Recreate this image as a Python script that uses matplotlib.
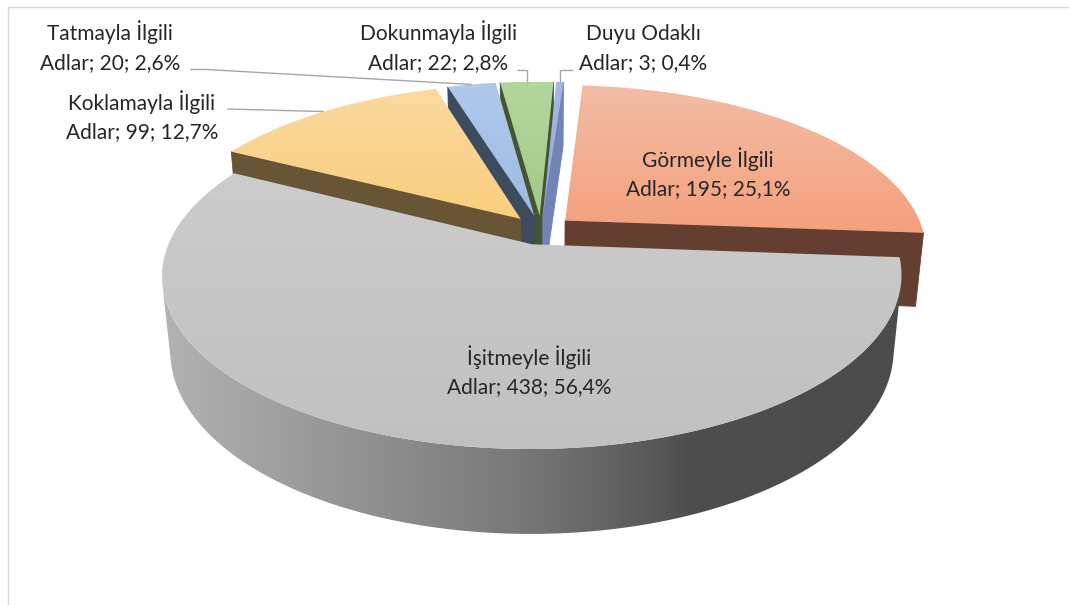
import numpy as np
import matplotlib
matplotlib.use('Agg')
import matplotlib.pyplot as plt
from matplotlib.patches import Polygon
from matplotlib.colors import LinearSegmentedColormap

# data (Excel order, clockwise from the top)
names = ['Görmeyle İlgili', 'İşitmeyle İlgili', 'Koklamayla İlgili',
         'Tatmayla İlgili', 'Dokunmayla İlgili', 'Duyu Odaklı']
series_name = 'Adlar'
values = [195, 438, 99, 20, 22, 3]

top_colors = [('#F2BDA5', '#F4A07D'), ('#CCCCCC', '#C0C0C0'), ('#FBDA9F', '#F9CE7D'),
              ('#B0C9E9', '#9CBAE2'), ('#B3D69D', '#A2CA87'), ('#A7B7E3', '#95A7DB')]
side_colors = ['#643F31', None, '#675535', '#3D4B5E', '#435532', '#7483B5']
gray_side_stops = [0.0, 0.5, 0.72, 1.0]
gray_side_cols = ['#B2B2B2', '#767676', '#4E4E4E', '#4C4C4C']

# label anchors (px, baseline of first line) and leader start points
label_xy = [(708, 167), (529, 365), (142, 110), (110, 40.5), (438, 40.5), (643, 40.5)]
leader_from = [None, None, (227, 109), (190, 69.5), (517, 70), (573, 70)]
leader_kind = [None, None, 'straight', 'stub', 'elbow', 'elbow']

# 3d view settings
ALPHA = np.radians(27)
DIST = 5.0
SCALE = 358
CX, CY = 541, 230
HEIGHT = 0.235
EXPLODE = 0.09
START = 4.0


def proj(X, Y, Z):
    w = 1 + Z * np.cos(ALPHA) / DIST - Y * np.sin(ALPHA) / DIST
    return CX + SCALE * X / w, CY - SCALE * (Y * np.cos(ALPHA) + Z * np.sin(ALPHA)) / w


cam = np.array([0.0, -DIST * np.cos(ALPHA)])


def grad_fill(ax, pts, stops, cols, horizontal, z):
    poly = Polygon(pts, closed=True, facecolor='none', edgecolor='none')
    ax.add_patch(poly)
    x0, y0 = pts.min(0)
    x1, y1 = pts.max(0)
    cmap = LinearSegmentedColormap.from_list('g', list(zip(stops, cols)))
    g = np.linspace(0, 1, 256)
    arr = g[None, :] if horizontal else g[:, None]
    im = ax.imshow(arr, cmap=cmap, vmin=0, vmax=1, extent=(x0, x1, y1, y0),
                   aspect='auto', interpolation='bilinear', zorder=z)
    im.set_clip_path(poly)


def flat(ax, pts, col, z):
    ax.add_patch(Polygon(pts, closed=True, facecolor=col, edgecolor=col, lw=0.6, zorder=z))


total = sum(values)
fr = np.array(values) / total
c_end = START + np.cumsum(fr) * 360
c_start = c_end - fr * 360

fig = plt.figure(figsize=(10.69, 6.05), dpi=100)
ax = fig.add_axes([0, 0, 1, 1])

slices = []
for i in range(len(values)):
    a_hi = 90 - c_start[i]
    a_lo = 90 - c_end[i]
    am = np.radians((a_lo + a_hi) / 2)
    off = EXPLODE * np.array([np.cos(am), np.sin(am)])
    slices.append((i, np.radians(a_lo), np.radians(a_hi), am, off))

# far slices first
order = sorted(slices, key=lambda s: -(s[4][1] + np.sin(s[3])))

z = 2
for i, a_lo, a_hi, am, off in order:
    n = max(8, int(abs(a_hi - a_lo) * 120))
    arc = np.linspace(a_lo, a_hi, n)
    ox, oz = off
    tip_t = proj(ox, 0, oz)
    tip_b = proj(ox, -HEIGHT, oz)

    # radial faces
    for a, sgn in ((a_lo, 1), (a_hi, -1)):
        nrm = sgn * np.array([np.sin(a), -np.cos(a)])
        if np.dot(cam - off, nrm) > 0 and side_colors[i] is not None:
            ex, ez = ox + np.cos(a), oz + np.sin(a)
            pts = np.array([tip_t, proj(ex, 0, ez), proj(ex, -HEIGHT, ez), tip_b])
            flat(ax, pts, side_colors[i], z)
            z += 1

    # curved outer face
    u = np.stack([np.cos(arc), np.sin(arc)], 1)
    vis = np.einsum('ij,ij->i', cam - (off + u), u) > 0
    if vis.any():
        va = arc[vis]
        tx, ty = proj(ox + np.cos(va), 0, oz + np.sin(va))
        bx, by = proj(ox + np.cos(va), -HEIGHT, oz + np.sin(va))
        pts = np.concatenate([np.stack([tx, ty], 1), np.stack([bx, by], 1)[::-1]])
        if side_colors[i] is None:
            grad_fill(ax, pts, gray_side_stops, gray_side_cols, True, z)
        else:
            flat(ax, pts, side_colors[i], z)
        z += 1

    # top face
    ax_, ay_ = proj(ox + np.cos(arc), 0, oz + np.sin(arc))
    pts = np.concatenate([[tip_t], np.stack([ax_, ay_], 1)])
    grad_fill(ax, pts, [0, 1], top_colors[i], False, z)
    z += 1

# labels and leader lines
for i, a_lo, a_hi, am, off in slices:
    pct = f'{values[i] / total * 100:.1f}'.replace('.', ',')
    x, y = label_xy[i]
    for k, s in enumerate([names[i], f'{series_name}; {values[i]}; {pct}%']):
        ax.text(x, y + k * 28.5, s, ha='center', va='baseline', fontsize=15,
                color='#262626', family=['Lato', 'DejaVu Sans'], zorder=60)
    if leader_from[i] is not None:
        ex, ey = proj(off[0] + np.cos(am), 0, off[1] + np.sin(am))
        sx, sy = leader_from[i]
        if leader_kind[i] == 'elbow':
            lx, ly = [sx, ex, ex], [sy, sy, ey]
        elif leader_kind[i] == 'stub':
            lx, ly = [sx, sx + 16, ex], [sy, sy, ey]
        else:
            lx, ly = [sx, ex], [sy, ey]
        ax.plot(lx, ly, color='#A6A6A6', lw=1.0, zorder=55, solid_capstyle='butt')

# chart area border
ax.plot([8, 8, 1075], [610, 7, 7], color='#D9D9D9', lw=1.0, zorder=1)

ax.set_xlim(0, 1069)
ax.set_ylim(605, 0)
ax.axis('off')
fig.savefig('out.png', dpi=100, facecolor='white')
